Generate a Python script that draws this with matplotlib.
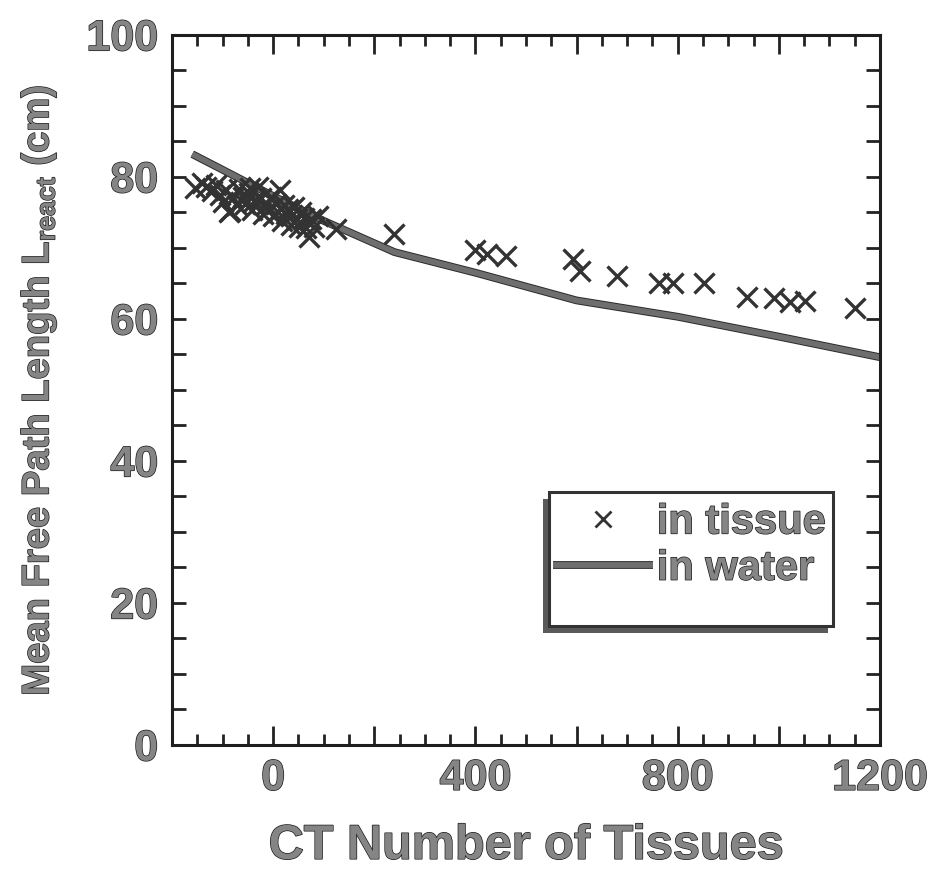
import numpy as np
import matplotlib
matplotlib.use("Agg")
import matplotlib.pyplot as plt
import matplotlib.patheffects as pe
from matplotlib.patches import Rectangle
from matplotlib.ticker import MultipleLocator, FuncFormatter

# mean free path in tissues (x markers)
tissue_ct = [-155, -140, -132, -120, -114, -105, -100, -94, -88, -85, -80, -72,
             -68, -60, -55, -48, -45, -42, -38, -30, -25, -20, -15, -10, -5,
             0, 5, 10, 14, 18, 22, 25, 30, 35, 38, 42, 48, 52, 55, 60, 65,
             70, 75, 80, 88, 125,
             238, 399, 422, 461, 593, 607, 679, 762, 791, 851, 937, 990,
             1022, 1052, 1151]
tissue_mfp = [78.5, 79.2, 78.6, 78.0, 78.9, 77.4, 76.4, 78.1, 75.0, 75.2, 77.0, 76.0,
              78.3, 77.2, 76.2, 77.7, 78.5, 75.4, 76.6, 78.6, 77.0, 74.8, 76.0, 75.3, 77.2,
              74.5, 76.2, 75.0, 78.2, 73.8, 76.0, 74.8, 75.5, 73.2, 74.6, 75.8, 74.0, 73.0,
              75.0, 74.2, 72.8, 71.6, 74.0, 73.0, 74.5, 72.6,
              71.9, 69.7, 69.2, 68.8, 68.5, 66.7, 66.1, 65.1, 65.0, 65.0, 63.1, 62.9,
              62.4, 62.5, 61.6]

# water curve
water_ct = [-160, -100, 0, 100, 240, 400, 600, 800, 1000, 1200]
water_mfp = [83.2, 81.0, 77.3, 73.8, 69.4, 66.5, 62.6, 60.3, 57.5, 54.6]

text_fx = [pe.withStroke(linewidth=1.0, foreground="#1a1a1a")]
txt = dict(family="Liberation Sans", weight="bold", color="#858585")

fig = plt.figure(figsize=(9.37, 8.71), dpi=100)
ax = fig.add_axes([0.1836, 0.1447, 0.7556, 0.8153])

ax.plot(water_ct, water_mfp, color="#6e6e6e", lw=4.2, solid_capstyle="butt",
        path_effects=[pe.Stroke(linewidth=5.6, foreground="#2a2a2a"), pe.Normal()],
        label="in water", zorder=2)
ax.plot(tissue_ct, tissue_mfp, ls="none", marker="x", ms=14, mew=2.4,
        color="#333333", label="in tissue", zorder=3)

ax.set_xlim(-200, 1200)
ax.set_ylim(0, 100)

ax.xaxis.set_major_locator(MultipleLocator(200))
ax.xaxis.set_minor_locator(MultipleLocator(50))
ax.xaxis.set_major_formatter(FuncFormatter(lambda v, p: f"{v:.0f}" if v % 400 == 0 else ""))
ax.yaxis.set_major_locator(MultipleLocator(20))
ax.yaxis.set_minor_locator(MultipleLocator(5))

ax.tick_params(which="both", direction="in", top=True, right=True, width=2, color="#222222")
ax.tick_params(axis="x", which="major", length=14, pad=10)
ax.tick_params(axis="x", which="minor", length=8)
ax.tick_params(axis="y", which="both", length=10, pad=10)

for spine in ax.spines.values():
    spine.set_linewidth(2.2)
    spine.set_color("#1e1e1e")

for lab in ax.get_xticklabels() + ax.get_yticklabels():
    lab.set_fontsize(31)
    lab.set_fontfamily("Liberation Sans")
    lab.set_fontweight("bold")
    lab.set_color("#858585")
    lab.set_path_effects(text_fx)

ax.set_xlabel("CT Number of Tissues", fontsize=35, labelpad=18, path_effects=text_fx, **txt)
ax.set_ylabel("Mean Free Path Length L$_{\\mathregular{react}}$ (cm)", fontsize=27.5,
              labelpad=20, path_effects=text_fx, **txt)

# legend box with drop shadow
bx, by, bw, bh = 0.532, 0.168, 0.402, 0.188
ax.add_patch(Rectangle((bx - 0.008, by - 0.010), bw, bh, transform=ax.transAxes,
                       facecolor="#5a5a5a", edgecolor="none", zorder=4))
ax.add_patch(Rectangle((bx, by), bw, bh, transform=ax.transAxes,
                       facecolor="white", edgecolor="#333333", lw=2.2, zorder=5))
h_w, h_t = ax.get_legend_handles_labels()
leg = ax.legend(h_w[::-1], h_t[::-1], loc="upper left", bbox_to_anchor=(0.514, 0.365),
                frameon=False, handlelength=2.4, handletextpad=0.1, labelspacing=0.15,
                borderaxespad=0, prop=dict(family="Liberation Sans", weight="bold", size=30))
leg.set_zorder(6)
for t in leg.get_texts():
    t.set_color("#858585")
    t.set_path_effects(text_fx)
leg.legend_handles[0].set_markersize(12)
leg.legend_handles[0].set_markeredgewidth(2)

fig.savefig("out.png", dpi=100)
